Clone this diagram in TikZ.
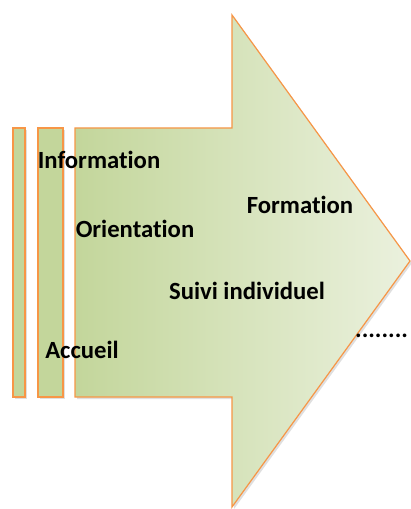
\documentclass[tikz,border=0pt]{standalone}
\usepackage{fontspec}
\setmainfont[Ligatures={NoCommon,NoRequired,NoContextual}]{Carlito}
\usetikzlibrary{shadows}
\definecolor{edge}{HTML}{F79646}
\definecolor{barfill}{HTML}{C3D69B}
\definecolor{gleft}{HTML}{C3D69B}
\definecolor{gright}{HTML}{EBF1DE}
\tikzset{
  lab/.style={font=\fontsize{24.8}{29}\selectfont\bfseries, inner sep=0pt, text=black},
  bar/.style={draw=edge, line width=1.2pt, fill=barfill, drop shadow={shadow xshift=2bp, shadow yshift=-2bp, opacity=0.25}},
}
\begin{document}
\begin{tikzpicture}[x=1bp,y=-1bp]
\useasboundingbox (0,0) rectangle (410,509);
\fill[white] (0,0) rectangle (410,509);
\draw[bar] (13,128) rectangle (25,397);
\draw[bar] (38,128) rectangle (63,397);
\draw[draw=edge, line width=1.2pt, left color=gleft, right color=gright,
  drop shadow={shadow xshift=2bp, shadow yshift=-2bp, opacity=0.25}]
  (75,128) -- (232,128) -- (232,15) -- (410,261) -- (232,507) -- (232,397) -- (75,397) -- cycle;
\node[lab] (info) at (99,160) {Information};
\node[lab] (orient) at (135,229) {Orientation};
\node[lab] (form) at (300,205) {Formation};
\node[lab] (suivi) at (247,291) {Suivi individuel};
\node[lab] (acc) at (82,350) {Accueil};
\node[lab, anchor=base west] (dots) at (355,337) {........};
\end{tikzpicture}
\end{document}
